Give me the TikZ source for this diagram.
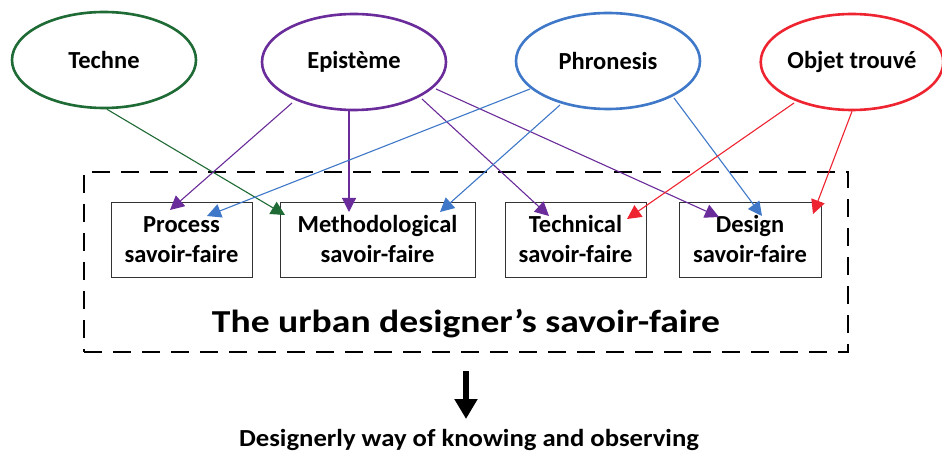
\documentclass[tikz,border=0pt]{standalone}
\usepackage{fontspec}
\usepackage{graphicx}
\setmainfont{Carlito}
\usetikzlibrary{arrows.meta,shapes.geometric}
\definecolor{cgreen}{HTML}{1F6B35}
\definecolor{cpurple}{HTML}{6A2C9A}
\definecolor{cblue}{HTML}{3F78C8}
\definecolor{cred}{HTML}{EE2430}
\newcommand{\sflabel}[1]{\raisebox{-8pt}[0pt][0pt]{\begin{tabular}{@{}c@{}}#1\end{tabular}}}
\begin{document}
\begin{tikzpicture}[x=1pt,y=-1pt,
  src/.style={ellipse,draw,line width=2.6pt,minimum width=184pt,minimum height=96pt,inner sep=0pt,font=\bfseries\fontsize{24.5}{28}\selectfont},
  sf/.style={draw=black!80,line width=0.7pt,align=center,inner sep=0pt,minimum height=75pt,font=\bfseries\fontsize{24.5}{30}\selectfont},
  link/.style={line width=1.1pt,-{Triangle[length=14pt,width=14pt]}}]
\useasboundingbox (0,0) rectangle (942,457);
\fill[white] (0,0) rectangle (942,457);
% dashed frame
\node[draw,line width=2.6pt,dash pattern=on 18pt off 11pt,minimum width=764pt,minimum height=180pt,inner sep=0pt] (frame) at (466,262) {};
% sources
\node[src,draw=cgreen] (techne) at (104,60) {Techne};
\node[src,draw=cpurple] (episteme) at (354,62) {Epistème};
\node[src,draw=cblue] (phronesis) at (608,61) {Phronesis};
\node[src,draw=cred,minimum width=180pt] (objet) at (852,62) {Objet trouvé};
% savoir-faire boxes
\node[sf,minimum width=141pt] (process) at (181.5,239.5) {\sflabel{Process\\[0.5pt]savoir-faire}};
\node[sf,minimum width=195pt] (method) at (377.5,239.5) {\sflabel{Methodological\\[0.5pt]savoir-faire}};
\node[sf,minimum width=141pt] (technical) at (575.5,239.5) {\sflabel{Technical\\[0.5pt]savoir-faire}};
\node[sf,minimum width=142pt] (design) at (750,239.5) {\sflabel{Design\\[0.5pt]savoir-faire}};
% title
\node[font=\bfseries\fontsize{32}{36}\selectfont] (title) at (466,324) {\scalebox{1.175}[1]{The urban designer’s savoir-faire}};
% output
\node[font=\bfseries\fontsize{24.5}{28}\selectfont] (out) at (469,440) {\scalebox{1.09}[1]{Designerly way of knowing and observing}};
\coordinate (atop) at (466,371);
\draw[line width=5.5pt,-{Triangle[length=20pt,width=22pt]}] (atop) -- (466,419);
% anchor coordinates for connectors
\coordinate (tk1) at (285,215);
\coordinate (ep1) at (170,210);
\coordinate (ep2) at (349,212);
\coordinate (ep3) at (549,216);
\coordinate (ep4) at (719,217);
\coordinate (ph1) at (207,216);
\coordinate (ph2) at (440,212);
\coordinate (ph3) at (762,216);
\coordinate (ob1) at (627,219);
\coordinate (ob2) at (813,214);
% connectors
\draw[link,cgreen] (techne.south) ++(3,0) -- (tk1);
\draw[link,cpurple] (episteme) ++(-62,41) -- (ep1);
\draw[link,cpurple] (episteme.south) ++(-5,0) -- (ep2);
\draw[link,cpurple] (episteme) ++(68,37) -- (ep3);
\draw[link,cpurple] (episteme) ++(82,27) -- (ep4);
\draw[link,cblue] (phronesis) ++(-78,28) -- (ph1);
\draw[link,cblue] (phronesis) ++(-48,44) -- (ph2);
\draw[link,cblue] (phronesis) ++(66,37) -- (ph3);
\draw[link,cred] (objet) ++(-58,41) -- (ob1);
\draw[link,cred] (objet.south) -- (ob2);
\end{tikzpicture}
\end{document}
